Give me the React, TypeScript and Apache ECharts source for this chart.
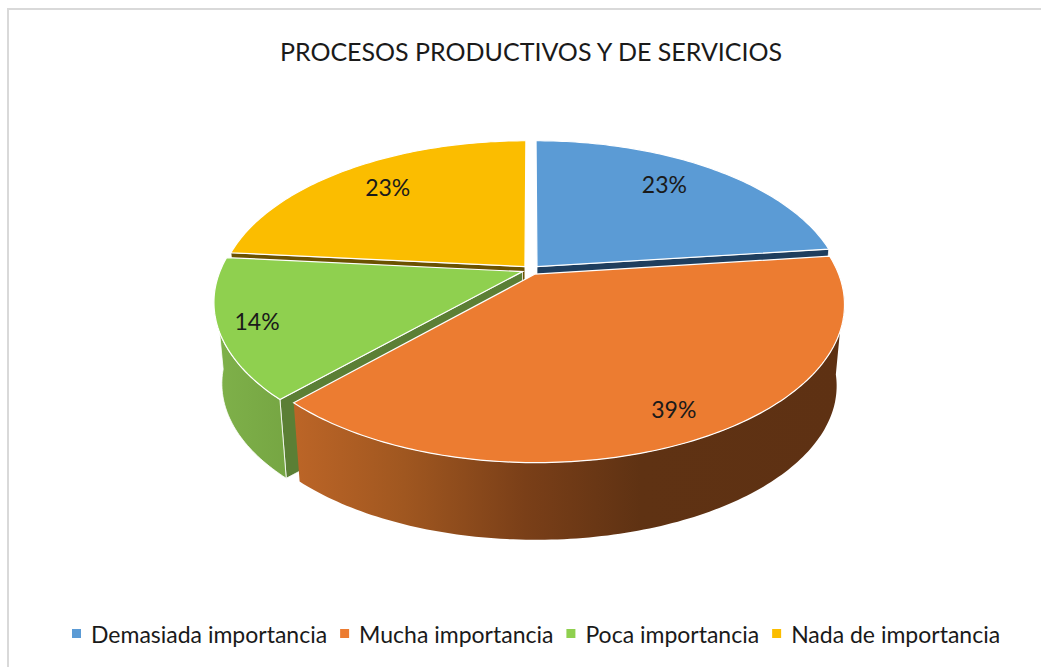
import React, { useEffect, useRef } from "react";
import * as echarts from "echarts";

const TITLE = "PROCESOS PRODUCTIVOS Y DE SERVICIOS";
const CATEGORIES = ["Demasiada importancia", "Mucha importancia", "Poca importancia", "Nada de importancia"];
const VALUES = [23.0, 38.8, 14.4, 23.4];
const FACE_COLORS = ["#5B9BD5", "#EC7C31", "#8FD04F", "#FBBD00"];
const CUT_COLORS = ["#1F3E5E", "#6B3A17", "#5B7F35", "#6B5200"];
const DRAW_ORDER = [3, 0, 2, 1];
const LABEL_RADIUS = [0.78, 0.85, 0.88, 0.78];
const LABEL_TURN = [-4, -0.5, 0, 1.5];
const FONT = "Lato";

// perspective model of the pie
const CX = 531, CY = 270, K = 302, B = 151, P = 0.19, WALL = 82, BOTTOM_SCALE = 0.975, EXPLODE = 0.03;
const FRONT_FROM = 97, FRONT_TO = 264;

const TOTAL = VALUES.reduce((a, b) => a + b, 0);
const angles = (i: number): [number, number] => {
  const before = VALUES.slice(0, i).reduce((a, b) => a + b, 0);
  return [(before / TOTAL) * 360, ((before + VALUES[i]) / TOTAL) * 360];
};
const rad = (d: number) => (d * Math.PI) / 180;

const project = (u: number, v: number, bottom: boolean): [number, number] => {
  const s = bottom ? BOTTOM_SCALE : 1;
  const d = 1 - P * v;
  return [CX + (K * s * u) / d, CY + (bottom ? WALL : 0) + (B * s * v) / d];
};

const wallGradient = (i: number) => {
  if (i === 1) {
    return new echarts.graphic.LinearGradient(0, 0, 1, 0, [
      { offset: 0, color: "#BC6527" },
      { offset: 0.2, color: "#A05720" },
      { offset: 0.42, color: "#7A3F18" },
      { offset: 0.63, color: "#5F3213" },
      { offset: 1, color: "#5E3113" },
    ]);
  }
  return new echarts.graphic.LinearGradient(0, 0, 1, 0, [
    { offset: 0, color: "#7FB14A" },
    { offset: 1, color: "#76A643" },
  ]);
};

const renderSlice = (i: number) => (_params: any, api: any) => {
  const value = api.value(0);
  const [a0, a1] = angles(i);
  const mid = rad((a0 + a1) / 2);
  const ox = Math.sin(mid) * EXPLODE;
  const oy = -Math.cos(mid) * EXPLODE;
  const at = (deg: number, r: number, bottom: boolean) =>
    project(ox + r * Math.sin(rad(deg)), oy - r * Math.cos(rad(deg)), bottom);
  const arc = (from: number, to: number, bottom: boolean) => {
    const pts: [number, number][] = [];
    const n = Math.max(2, Math.ceil(Math.abs(to - from)));
    for (let k = 0; k <= n; k++) pts.push(at(from + ((to - from) * k) / n, 1, bottom));
    return pts;
  };
  const children: any[] = [];

  // cut wall seen through the exploded gap
  const cut = i === 1 ? null : i === 0 ? a1 : a0;
  if (cut !== null) {
    children.push({
      type: "polygon",
      shape: { points: [at(cut, 0, false), at(cut, 1, false), at(cut, 1, true), at(cut, 0, true)] },
      style: { fill: CUT_COLORS[i], stroke: "#FFFFFF", lineWidth: 0.8 },
    });
  }
  // outer wall
  const w0 = Math.max(a0, FRONT_FROM);
  const w1 = Math.min(a1, FRONT_TO);
  if (w1 > w0) {
    children.push({
      type: "polygon",
      shape: { points: [...arc(w0, w1, false), ...arc(w1, w0, true)] },
      style: { fill: wallGradient(i), stroke: i === 2 ? "#FFFFFF" : "none", lineWidth: 0.8 },
    });
  }
  // top face
  children.push({
    type: "polygon",
    shape: { points: [at(0, 0, false), ...arc(a0, a1, false)] },
    style: { fill: FACE_COLORS[i], stroke: "#FFFFFF", lineWidth: 1.2 },
  });
  const [lx, ly] = at((a0 + a1) / 2 + LABEL_TURN[i], LABEL_RADIUS[i], false);
  children.push({
    type: "text",
    x: lx,
    y: ly,
    style: {
      text: `${Math.round((value / TOTAL) * 100)}%`,
      fill: "#1A1A1A",
      font: `23px ${FONT}`,
      align: "center",
      verticalAlign: "middle",
    },
  });
  return { type: "group", children };
};

export default function App() {
  const ref = useRef<HTMLDivElement>(null);
  useEffect(() => {
    const chart = echarts.init(ref.current!, null, { renderer: "svg" });
    chart.setOption({
      animation: false,
      backgroundColor: "#FFFFFF",
      title: {
        text: TITLE,
        left: 526,
        top: 33,
        textAlign: "center",
        textStyle: { fontFamily: FONT, fontSize: 25, fontWeight: "normal", color: "#1A1A1A" },
      },
      legend: {
        data: CATEGORIES,
        left: 67,
        top: 617,
        icon: "rect",
        itemWidth: 9,
        itemHeight: 9,
        itemGap: 13,
        textStyle: { fontFamily: FONT, fontSize: 23, color: "#1A1A1A", padding: [0, 0, 0, 5] },
        selectedMode: false,
      },
      graphic: [
        {
          type: "polyline",
          shape: { points: [[8, 667], [8, 9], [1041, 9]] },
          style: { stroke: "#D9D9D9", lineWidth: 2, fill: "none" },
        },
      ],
      series: DRAW_ORDER.map((i) => ({
        type: "custom",
        name: CATEGORIES[i],
        coordinateSystem: "none",
        silent: true,
        itemStyle: { color: FACE_COLORS[i] },
        data: [{ name: CATEGORIES[i], value: [VALUES[i]] }],
        renderItem: renderSlice(i),
      })),
    });
    return () => chart.dispose();
  }, []);
  return <div ref={ref} style={{ position: "fixed", left: 0, top: 0, width: 1041, height: 667 }} />;
}
